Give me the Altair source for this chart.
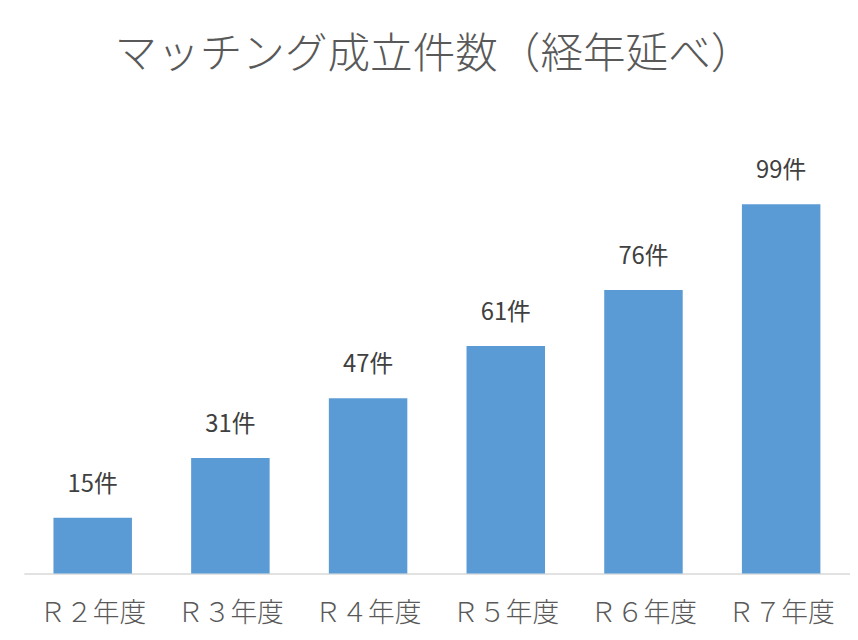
"""マッチング成立件数（経年延べ） — Altair bar chart with value labels."""

import altair as alt
import pandas as pd

years = ["Ｒ２年度", "Ｒ３年度", "Ｒ４年度", "Ｒ５年度", "Ｒ６年度", "Ｒ７年度"]
counts = [15, 31, 47, 61, 76, 99]
labels = [f"{c}件" for c in counts]

df = pd.DataFrame({"year": years, "count": counts, "label": labels})

FONT = "Noto Sans CJK JP"

x = alt.X(
    "year:N",
    sort=None,
    title=None,
    scale=alt.Scale(paddingInner=0.43, paddingOuter=0.215),
    axis=alt.Axis(
        labelAngle=0,
        labelFont=FONT,
        labelFontSize=27,
        labelFontWeight=300,
        labelColor="#595959",
        labelPadding=27,
        ticks=False,
        domainColor="#d9d9d9",
        domainWidth=1.5,
    ),
)
y = alt.Y("count:Q", scale=alt.Scale(domain=[0, 120]), axis=None)

bars = alt.Chart(df).mark_bar(color="#5b9bd5").encode(x=x, y=y)

text = (
    alt.Chart(df)
    .mark_text(
        font=FONT,
        fontSize=24,
        color="#404040",
        baseline="alphabetic",
        dy=-26,
    )
    .encode(x=x, y=y, text="label:N")
)

chart = (
    alt.layer(bars, text)
    .properties(
        width=834,
        height=452,
        autosize=alt.AutoSizeParams(type="none"),
        padding={"left": 16, "top": 116, "right": 0, "bottom": 60},
        title=alt.Title(
            "マッチング成立件数（経年延べ）",
            font=FONT,
            fontSize=43,
            fontWeight=300,
            color="#595959",
            offset=49,
            dx=-3,
        ),
    )
    .configure_view(stroke=None)
)

chart.save("out.html", embed_options={"renderer": "svg", "actions": False})
